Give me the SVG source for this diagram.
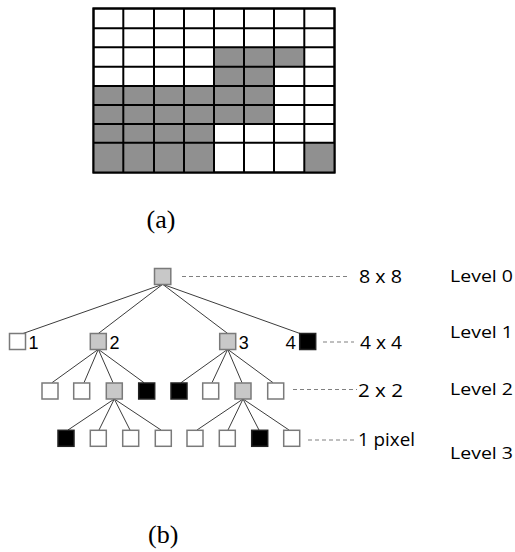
<svg xmlns="http://www.w3.org/2000/svg" width="515" height="552" viewBox="0 0 515 552">
<style>
.cell{stroke:#000;stroke-width:2;}
.w{fill:#fff;}
.g{fill:#909090;}
.n{stroke:#7a7a7a;stroke-width:1.5;}
.nw{fill:#fff;}
.ng{fill:#c8c8c8;}
.nb{fill:#000;stroke:#222;}
.e{stroke:#3c3c3c;stroke-width:1;fill:none;}
.d{stroke:#808080;stroke-width:1.2;stroke-dasharray:4 3;fill:none;}
.num{font-family:"Liberation Sans",Arial,sans-serif;font-size:18px;fill:#000;}
.cal{font-family:"Open Sans","Liberation Sans",sans-serif;font-size:18px;fill:#000;}
.lv{font-family:"Open Sans","Liberation Sans",sans-serif;font-size:17px;fill:#000;}
.cap{font-family:"Liberation Serif","Times New Roman",serif;font-size:26px;fill:#000;}
</style>
<g id="grid">
<rect class="cell w" x="93.5" y="8.5" width="241" height="164"/>
<rect class="g" x="214" y="47.3" width="90.3" height="19.4"/>
<rect class="g" x="214" y="66.7" width="60" height="19.3"/>
<rect class="g" x="93.5" y="86" width="180.5" height="38"/>
<rect class="g" x="93.5" y="124" width="120.5" height="48.5"/>
<rect class="g" x="304.3" y="142.7" width="30.2" height="29.8"/>
<g stroke="#000" stroke-width="2">
<line x1="93.5" y1="28.3" x2="334.5" y2="28.3"/>
<line x1="93.5" y1="47.3" x2="334.5" y2="47.3"/>
<line x1="93.5" y1="66.7" x2="334.5" y2="66.7"/>
<line x1="93.5" y1="86" x2="334.5" y2="86"/>
<line x1="93.5" y1="105" x2="334.5" y2="105"/>
<line x1="93.5" y1="124" x2="334.5" y2="124"/>
<line x1="93.5" y1="142.7" x2="334.5" y2="142.7"/>
<line x1="123.3" y1="8.5" x2="123.3" y2="172.5"/>
<line x1="154" y1="8.5" x2="154" y2="172.5"/>
<line x1="184" y1="8.5" x2="184" y2="172.5"/>
<line x1="214" y1="8.5" x2="214" y2="172.5"/>
<line x1="244" y1="8.5" x2="244" y2="172.5"/>
<line x1="274" y1="8.5" x2="274" y2="172.5"/>
<line x1="304.3" y1="8.5" x2="304.3" y2="172.5"/>
</g>
<rect x="93.5" y="8.5" width="241" height="164" fill="none" stroke="#000" stroke-width="2"/>
</g>
<text class="cap" x="146.5" y="228">(a)</text>
<text class="cap" x="148" y="543">(b)</text>
<g id="connectors">
<line class="e" x1="162.7" y1="284.3" x2="23" y2="333.5"/>
<line class="e" x1="162.7" y1="284.3" x2="98.3" y2="333.5"/>
<line class="e" x1="162.7" y1="284.3" x2="227.7" y2="333.5"/>
<line class="e" x1="162.7" y1="284.3" x2="300" y2="333.5"/>
<line class="e" x1="98.3" y1="349.3" x2="52" y2="382.7"/>
<line class="e" x1="98.3" y1="349.3" x2="84" y2="382.7"/>
<line class="e" x1="98.3" y1="349.3" x2="113" y2="382.7"/>
<line class="e" x1="98.3" y1="349.3" x2="144" y2="382.7"/>
<line class="e" x1="227.7" y1="349.3" x2="181" y2="382.7"/>
<line class="e" x1="227.7" y1="349.3" x2="212" y2="382.7"/>
<line class="e" x1="227.7" y1="349.3" x2="242" y2="382.7"/>
<line class="e" x1="227.7" y1="349.3" x2="273" y2="382.7"/>
<line class="e" x1="114.3" y1="399" x2="68" y2="430"/>
<line class="e" x1="114.3" y1="399" x2="99" y2="430"/>
<line class="e" x1="114.3" y1="399" x2="130" y2="430"/>
<line class="e" x1="114.3" y1="399" x2="161" y2="430"/>
<line class="e" x1="243" y1="399" x2="197" y2="430"/>
<line class="e" x1="243" y1="399" x2="228" y2="430"/>
<line class="e" x1="243" y1="399" x2="259" y2="430"/>
<line class="e" x1="243" y1="399" x2="289" y2="430"/>
<line class="d" x1="182" y1="276.5" x2="350" y2="276.5"/>
<line class="d" x1="323" y1="342" x2="354" y2="342"/>
<line class="d" x1="293" y1="389.5" x2="357" y2="389.5"/>
<line class="d" x1="308" y1="440" x2="355" y2="440"/>
</g>
<g id="root"><rect class="n ng" x="154.5" y="268.5" width="16.3" height="16"/></g>
<g id="n1"><rect class="n nw" x="9.5" y="333.5" width="16" height="16"/><text class="num" x="28.5" y="348.5">1</text></g>
<g id="n2"><rect class="n ng" x="90.3" y="333.5" width="16" height="16"/><text class="num" x="109.5" y="348.5">2</text></g>
<g id="n3"><rect class="n ng" x="219.7" y="333.5" width="16" height="16"/><text class="num" x="238.8" y="348.5">3</text></g>
<g id="n4"><rect class="n nb" x="299.7" y="333.5" width="16" height="16"/><text class="cal" x="285.5" y="349">4</text></g>
<g id="l2">
<rect class="n nw" x="42" y="383" width="16" height="16"/>
<rect class="n nw" x="73.7" y="383" width="16" height="16"/>
<rect class="n ng" x="106.3" y="383" width="16" height="16"/>
<rect class="n nb" x="138.7" y="383" width="16" height="16"/>
<rect class="n nb" x="171" y="383" width="16" height="16"/>
<rect class="n nw" x="202.7" y="383" width="16" height="16"/>
<rect class="n ng" x="235" y="383" width="16" height="16"/>
<rect class="n nw" x="267.7" y="383" width="16" height="16"/>
</g>
<g id="l3">
<rect class="n nb" x="58" y="430.3" width="16" height="16"/>
<rect class="n nw" x="90.3" y="430.3" width="16" height="16"/>
<rect class="n nw" x="122.7" y="430.3" width="16" height="16"/>
<rect class="n nw" x="155.3" y="430.3" width="16" height="16"/>
<rect class="n nw" x="187" y="430.3" width="16" height="16"/>
<rect class="n nw" x="219.3" y="430.3" width="16" height="16"/>
<rect class="n nb" x="251.7" y="430.3" width="16" height="16"/>
<rect class="n nw" x="283.7" y="430.3" width="16" height="16"/>
</g>
<g id="labels">
<text class="cal" x="359" y="283" textLength="43" lengthAdjust="spacingAndGlyphs">8 x 8</text>
<text class="cal" x="360" y="349" textLength="42" lengthAdjust="spacingAndGlyphs">4 x 4</text>
<text class="cal" x="358" y="397" textLength="45" lengthAdjust="spacingAndGlyphs">2 x 2</text>
<text class="cal" x="358" y="445.5" textLength="57" lengthAdjust="spacingAndGlyphs">1 pixel</text>
<text class="lv" x="450" y="282" textLength="63" lengthAdjust="spacingAndGlyphs">Level  0</text>
<text class="lv" x="450" y="338" textLength="63" lengthAdjust="spacingAndGlyphs">Level  1</text>
<text class="lv" x="450" y="395" textLength="63" lengthAdjust="spacingAndGlyphs">Level  2</text>
<text class="lv" x="450" y="459" textLength="63" lengthAdjust="spacingAndGlyphs">Level  3</text>
</g>
</svg>
